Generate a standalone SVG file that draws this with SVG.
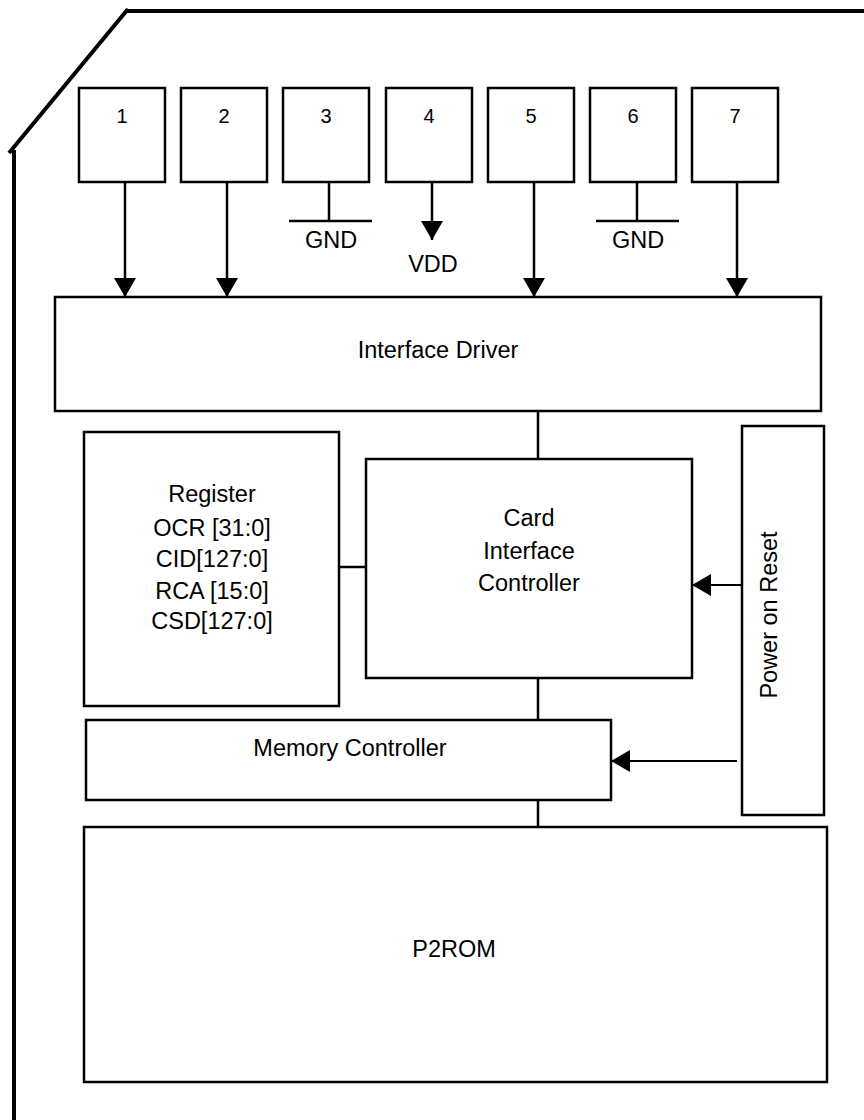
<svg xmlns="http://www.w3.org/2000/svg" width="864" height="1120" viewBox="0 0 864 1120">
<style>
.box{fill:#fff;stroke:#000;stroke-width:2.5}
.t{font-family:"Liberation Sans",Arial,sans-serif;font-size:23.5px;fill:#000;text-anchor:middle}
.n{font-family:"Liberation Sans",Arial,sans-serif;font-size:20px;fill:#000;text-anchor:middle}
.ln{stroke:#000;stroke-width:2.5;fill:none}
.thin{stroke:#000;stroke-width:2;fill:none}
</style>
<defs>
<marker id="ah" markerUnits="userSpaceOnUse" markerWidth="20" markerHeight="22" refX="19" refY="11" orient="auto">
<path d="M0,0 L19,11 L0,22 z" fill="#000"/>
</marker>
</defs>
<rect width="864" height="1120" fill="#fff"/>
<g id="outline">
<path d="M14 1120 V150 M9 153 L128 9 M126 11 H864" stroke="#000" stroke-width="4" fill="none"/>
</g>
<g id="pin1"><rect class="box" x="79" y="88" width="86" height="94"/><text class="n" x="122" y="123">1</text></g>
<g id="pin2"><rect class="box" x="181" y="88" width="86" height="94"/><text class="n" x="224" y="123">2</text></g>
<g id="pin3"><rect class="box" x="283" y="88" width="86" height="94"/><text class="n" x="326" y="123">3</text></g>
<g id="pin4"><rect class="box" x="386" y="88" width="86" height="94"/><text class="n" x="429" y="123">4</text></g>
<g id="pin5"><rect class="box" x="488" y="88" width="86" height="94"/><text class="n" x="531" y="123">5</text></g>
<g id="pin6"><rect class="box" x="590" y="88" width="86" height="94"/><text class="n" x="633" y="123">6</text></g>
<g id="pin7"><rect class="box" x="692" y="88" width="86" height="94"/><text class="n" x="735" y="123">7</text></g>
<g id="gnd1"><path class="ln" d="M329 182 V221 M289 221 H372"/><text class="t" x="331" y="248">GND</text></g>
<g id="vdd"><text class="t" x="433" y="272">VDD</text></g>
<g id="gnd2"><path class="ln" d="M637 182 V221 M596 221 H679"/><text class="t" x="638" y="248">GND</text></g>
<g id="interface-driver"><rect class="box" x="55" y="297" width="766" height="114"/><text class="t" x="438" y="358">Interface Driver</text></g>
<g id="register"><rect class="box" x="84" y="432" width="255" height="274"/>
<text class="t" x="212" y="502">Register</text>
<text class="t" x="212" y="536">OCR [31:0]</text>
<text class="t" x="212" y="567">CID[127:0]</text>
<text class="t" x="212" y="599">RCA [15:0]</text>
<text class="t" x="212" y="629">CSD[127:0]</text></g>
<g id="card-interface-controller"><rect class="box" x="366" y="459" width="326" height="219"/>
<text class="t" x="529" y="526">Card</text>
<text class="t" x="529" y="559">Interface</text>
<text class="t" x="529" y="591">Controller</text></g>
<g id="power-on-reset"><rect class="box" x="742" y="426" width="82" height="389"/>
<text class="t" transform="translate(777 615) rotate(-90)">Power on Reset</text></g>
<g id="memory-controller"><rect class="box" x="86" y="720" width="525" height="80"/><text class="t" x="350" y="756">Memory Controller</text></g>
<g id="p2rom"><rect class="box" x="84" y="827" width="743" height="255"/><text class="t" x="454" y="957">P2ROM</text></g>
<g id="connectors">
<line class="ln" x1="125" y1="182" x2="125" y2="297" marker-end="url(#ah)"/>
<line class="ln" x1="227" y1="182" x2="227" y2="297" marker-end="url(#ah)"/>
<line class="ln" x1="432" y1="182" x2="432" y2="240" marker-end="url(#ah)"/>
<line class="ln" x1="534" y1="182" x2="534" y2="297" marker-end="url(#ah)"/>
<line class="ln" x1="737" y1="182" x2="737" y2="297" marker-end="url(#ah)"/>
<line class="ln" x1="538" y1="411" x2="538" y2="459"/>
<line class="ln" x1="339" y1="567" x2="366" y2="567"/>
<line class="ln" x1="538" y1="678" x2="538" y2="720"/>
<line class="ln" x1="538" y1="800" x2="538" y2="827"/>
<line class="thin" x1="742" y1="585" x2="692" y2="585" marker-end="url(#ah)"/>
<line class="thin" x1="737" y1="761" x2="611" y2="761" marker-end="url(#ah)"/>
</g>
</svg>
